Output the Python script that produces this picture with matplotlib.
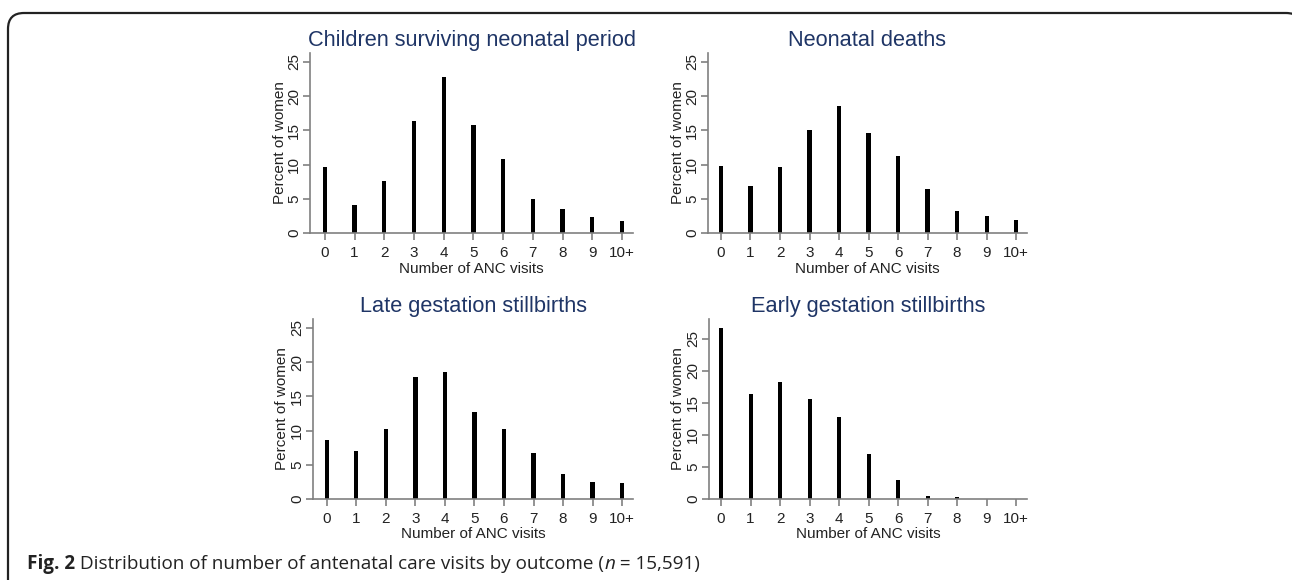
import matplotlib
matplotlib.use("Agg")
import matplotlib.pyplot as plt
import numpy as np
from matplotlib.path import Path
from matplotlib.patches import PathPatch

plt.rcParams['font.family'] = ['Liberation Sans', 'DejaVu Sans']

categories = ["0", "1", "2", "3", "4", "5", "6", "7", "8", "9", "10+"]
titles = ["Children surviving neonatal period", "Neonatal deaths",
          "Late gestation stillbirths", "Early gestation stillbirths"]
surviving = [9.6, 4.1, 7.55, 16.3, 22.75, 15.85, 10.8, 5.0, 3.45, 2.4, 1.75]
neonatal_deaths = [9.85, 6.8, 9.6, 15.0, 18.55, 14.6, 11.3, 6.45, 3.25, 2.5, 1.85]
late_stillbirths = [8.55, 7.0, 10.25, 17.8, 18.55, 12.7, 10.25, 6.65, 3.7, 2.45, 2.35]
early_stillbirths = [26.7, 16.4, 18.2, 15.65, 12.8, 7.05, 2.9, 0.45, 0.25, 0.0, 0.0]
yticks = [0, 5, 10, 15, 20, 25]

W, H = 1292, 580
fig = plt.figure(figsize=(W / 100, H / 100), dpi=100)

def px_axes(left, top, right, bottom):
    return fig.add_axes([left / W, 1 - bottom / H, (right - left) / W, (bottom - top) / H])

# (left, top, right, bottom) pixels, xlim, ylim, y-label centre x (px)
panels = [
    ((310, 53, 633, 233), (-0.5, 10.37), (0, 26.3), surviving, 280),
    ((708, 53, 1027, 233), (-0.44, 10.37), (0, 26.3), neonatal_deaths, 678),
    ((313, 319, 633, 499), (-0.47, 10.37), (0, 26.3), late_stillbirths, 282),
    ((709, 319, 1027, 499), (-0.41, 10.37), (0, 28.1), early_stillbirths, 678),
]

spine_col = '#808080'
title_col = '#1f3566'
x = np.arange(len(categories))
for (box, xl, yl, vals, lab_x), title in zip(panels, titles):
    ax = px_axes(*box)
    ax.bar(x, vals, width=0.14, color='black', linewidth=0)
    ax.set_xlim(*xl)
    ax.set_ylim(*yl)
    ax.set_xticks(x)
    ax.set_xticklabels(categories)
    ax.set_yticks(yticks)
    ax.set_yticklabels([str(v) for v in yticks], rotation=90, va='center')
    for s in ['top', 'right']:
        ax.spines[s].set_visible(False)
    for s in ['left', 'bottom']:
        ax.spines[s].set_color(spine_col)
        ax.spines[s].set_linewidth(1.2)
    ax.tick_params(axis='both', colors=spine_col, labelcolor='#222222',
                   length=5, width=1.2, labelsize=11, pad=4.5)
    ax.tick_params(axis='y', pad=1.5)
    ax.set_xlabel("Number of ANC visits", fontsize=11, color='#222222')
    ax.xaxis.label.set_verticalalignment('center')
    ax.xaxis.set_label_coords(0.5, -35.5 / (box[3] - box[1]))
    ax.set_ylabel("Percent of women", fontsize=11, color='#222222')
    ax.yaxis.label.set_verticalalignment('center')
    ax.yaxis.set_label_coords((lab_x - box[0]) / (box[2] - box[0]), 0.5)
    ax.set_title(title, fontsize=15.7, color=title_col, pad=5)

# frame
r = 16
x0, x1, yt, yb = 8, 1302, 13, 590
verts = [(x0, yb), (x0, yt + r), (x0, yt), (x0 + r, yt), (x1 - r, yt), (x1, yt), (x1, yt + r), (x1, yb)]
codes = [Path.MOVETO, Path.LINETO, Path.CURVE3, Path.CURVE3, Path.LINETO, Path.CURVE3, Path.CURVE3, Path.LINETO]
verts_f = [(vx / W, 1 - vy / H) for vx, vy in verts]
fig.patches.append(PathPatch(Path(verts_f, codes), transform=fig.transFigure,
                             fill=False, edgecolor='#222222', linewidth=1.6))

# caption, laid out piece by piece
cap_family = ['Open Sans', 'DejaVu Sans']
pieces = [("Fig. 2", dict(fontweight='bold')),
          (" Distribution of number of antenatal care visits by outcome (", {}),
          ("n", dict(style='italic')),
          (" = 15,591)", {})]
cap_left, cap_right, cap_y = 27, 695, 564
renderer = fig.canvas.get_renderer()

def layout(fs):
    texts = []
    xpos = cap_left
    for s, kw in pieces:
        t = fig.text(xpos / W, 1 - cap_y / H, s, fontsize=fs, va='center', ha='left',
                     family=cap_family, color='#222222', **kw)
        bb = t.get_window_extent(renderer)
        xpos += bb.width
        texts.append(t)
    return texts, xpos

texts, end = layout(12)
fs = 12 * (cap_right - cap_left) / (end - cap_left)
for t in texts:
    t.remove()
layout(fs)

fig.savefig("out.png", dpi=100)
